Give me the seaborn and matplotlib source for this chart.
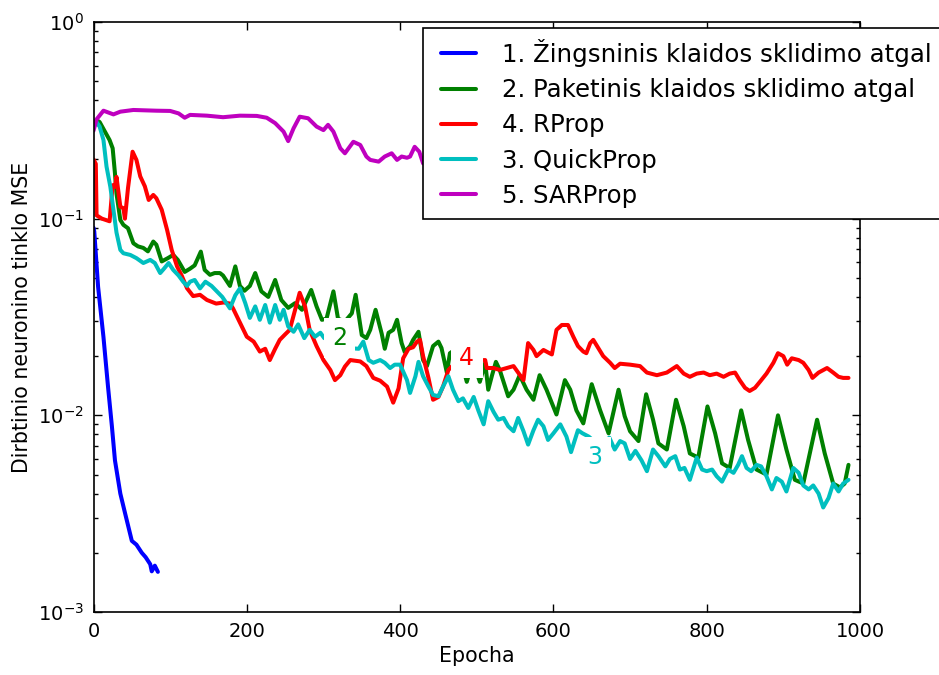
import numpy as np
import pandas as pd
import matplotlib
matplotlib.use("Agg")
import matplotlib.pyplot as plt
import seaborn as sns

# ---------------- data ----------------
ep1 = [0, 1, 6, 13, 19, 24, 28, 35, 41, 50, 56, 63, 68, 74, 76, 80, 84]
mse1 = [0.09, 0.086, 0.045, 0.025, 0.0139, 0.0088, 0.0059, 0.0040, 0.0032, 0.0023,
        0.0022, 0.0020, 0.0019, 0.00175, 0.00161, 0.00172, 0.0016]

ep2 = [1, 4, 8, 15, 21, 25, 28, 30, 35, 39, 45, 52, 58, 65, 71, 78, 82, 89, 97, 104,
       110, 119, 126, 132, 140, 145, 152, 158, 165, 169, 178, 185, 191, 197, 204, 211,
       219, 228, 237, 245, 254, 263, 272, 284, 291, 298, 304, 313, 319, 328, 337, 342,
       350, 356, 361, 368, 376, 380, 385, 391, 396, 402, 406, 413, 417, 424, 430, 435,
       443, 450, 454, 461, 465, 475, 487, 495, 504, 511, 515, 520, 525, 530, 537, 541,
       548, 556, 565, 574, 582, 591, 604, 615, 622, 630, 639, 650, 661, 672, 685, 693,
       700, 711, 721, 730, 737, 748, 760, 770, 778, 789, 801, 811, 820, 830, 845, 854,
       865, 878, 893, 904, 915, 926, 944, 954, 965, 974, 980, 985]
mse2 = [0.30, 0.317, 0.31, 0.277, 0.251, 0.228, 0.17, 0.134, 0.0985, 0.093, 0.0894,
        0.075, 0.0723, 0.071, 0.0682, 0.0765, 0.0737, 0.0606, 0.063, 0.0654, 0.0617,
        0.0536, 0.0557, 0.0579, 0.068, 0.0549, 0.0518, 0.0529, 0.0529, 0.0514, 0.0455,
        0.0572, 0.0455, 0.043, 0.0455, 0.0529, 0.0427, 0.040, 0.0488, 0.0386, 0.0352,
        0.0372, 0.0344, 0.0434, 0.0358, 0.0306, 0.031, 0.0427, 0.031, 0.030, 0.033,
        0.041, 0.0256, 0.0247, 0.0272, 0.0344, 0.026, 0.0218, 0.0263, 0.0272, 0.0306,
        0.0233, 0.021, 0.0225, 0.0242, 0.0266, 0.0191, 0.0178, 0.0225, 0.0237, 0.022,
        0.0165, 0.0207, 0.022, 0.0148, 0.019, 0.0148, 0.0185, 0.0135, 0.016, 0.0187,
        0.017, 0.014, 0.0125, 0.0135, 0.016, 0.0135, 0.012, 0.016, 0.0135, 0.0101,
        0.0151, 0.0135, 0.0106, 0.0091, 0.0144, 0.0106, 0.0081, 0.0135, 0.0099, 0.0083,
        0.0074, 0.0128, 0.0095, 0.0072, 0.0067, 0.012, 0.0088, 0.0064, 0.0061, 0.0111,
        0.0081, 0.0057, 0.0054, 0.0106, 0.0075, 0.0053, 0.005, 0.010, 0.0067, 0.0047,
        0.0045, 0.0095, 0.0064, 0.0045, 0.0043, 0.0045, 0.0056]

ep4 = [0, 3, 4, 11, 21, 25, 28, 30, 35, 39, 41, 45, 51, 56, 61, 67, 72, 78, 82, 89,
       96, 102, 109, 115, 122, 130, 139, 148, 160, 170, 178, 182, 191, 200, 209, 217,
       224, 230, 237, 243, 250, 256, 263, 269, 276, 282, 291, 300, 309, 315, 322, 328,
       335, 348, 356, 365, 374, 383, 391, 398, 404, 411, 417, 422, 426, 430, 437, 443,
       450, 456, 463, 475, 490, 500, 511, 513, 522, 530, 539, 548, 554, 561, 567, 574,
       578, 587, 598, 604, 611, 619, 626, 632, 639, 643, 648, 652, 657, 665, 674, 680,
       687, 700, 713, 722, 735, 748, 761, 770, 778, 787, 796, 804, 813, 822, 830, 837,
       843, 850, 856, 863, 870, 878, 887, 893, 900, 905, 911, 920, 926, 933, 938, 946,
       957, 965, 972, 978, 985]
mse4 = [0.20, 0.19, 0.104, 0.10, 0.097, 0.148, 0.145, 0.163, 0.115, 0.113, 0.100,
        0.143, 0.219, 0.199, 0.164, 0.146, 0.1245, 0.132, 0.127, 0.111, 0.0877, 0.0694,
        0.0572, 0.0514, 0.0443, 0.0404, 0.041, 0.0386, 0.037, 0.0375, 0.037, 0.035,
        0.0296, 0.0251, 0.0237, 0.0211, 0.0218, 0.0191, 0.0218, 0.0242, 0.0258, 0.0272,
        0.0344, 0.042, 0.0358, 0.0272, 0.0225, 0.0191, 0.017, 0.0151, 0.016, 0.0177,
        0.0191, 0.0188, 0.0178, 0.0155, 0.0150, 0.0140, 0.0116, 0.0137, 0.0195, 0.0218,
        0.0222, 0.0237, 0.0242, 0.0200, 0.0155, 0.0120, 0.0124, 0.0140, 0.017, 0.019,
        0.019, 0.019, 0.0191, 0.0174, 0.0174, 0.017, 0.0174, 0.0178, 0.0165, 0.0151,
        0.0233, 0.0215, 0.020, 0.0215, 0.0204, 0.0272, 0.0288, 0.0288, 0.0251, 0.0225,
        0.0211, 0.0207, 0.0233, 0.0242, 0.0225, 0.020, 0.0185, 0.0174, 0.0183, 0.0181,
        0.0178, 0.0165, 0.016, 0.0165, 0.0178, 0.0163, 0.0157, 0.0163, 0.0165, 0.016,
        0.0163, 0.0157, 0.0163, 0.0165, 0.0151, 0.0138, 0.0133, 0.0138, 0.0149, 0.0163,
        0.0185, 0.0207, 0.020, 0.0181, 0.0195, 0.0191, 0.0185, 0.017, 0.0155, 0.0165,
        0.0174, 0.0165, 0.0157, 0.0155, 0.0155]

ep3 = [1, 4, 8, 13, 17, 22, 26, 30, 35, 39, 48, 56, 65, 74, 80, 87, 92, 98, 104, 111,
       117, 122, 126, 132, 139, 146, 154, 161, 168, 178, 185, 191, 198, 204, 211, 217,
       224, 230, 237, 243, 248, 254, 261, 267, 275, 282, 289, 296, 301, 315, 330, 346,
       352, 359, 365, 374, 380, 387, 393, 400, 409, 413, 420, 424, 430, 437, 443, 450,
       456, 463, 469, 476, 482, 489, 496, 502, 509, 515, 522, 528, 535, 541, 548, 554,
       561, 567, 574, 580, 587, 593, 600, 609, 617, 623, 632, 638, 646, 660, 673, 680,
       687, 693, 700, 707, 715, 722, 730, 737, 746, 752, 759, 765, 771, 778, 787, 794,
       800, 807, 813, 820, 828, 835, 841, 846, 852, 858, 865, 871, 878, 885, 891, 898,
       904, 913, 920, 926, 933, 939, 946, 952, 959, 965, 972, 978, 985]
mse3 = [0.30, 0.31, 0.294, 0.251, 0.184, 0.145, 0.111, 0.085, 0.0694, 0.0667, 0.0654,
        0.063, 0.0595, 0.0617, 0.0595, 0.0529, 0.0557, 0.0595, 0.0549, 0.0514, 0.0478,
        0.0455, 0.0478, 0.0488, 0.0442, 0.0478, 0.0455, 0.0427, 0.040, 0.035, 0.0408,
        0.0442, 0.0372, 0.0313, 0.0358, 0.0306, 0.0364, 0.0296, 0.0364, 0.0306, 0.0344,
        0.0283, 0.0266, 0.029, 0.0247, 0.0272, 0.0251, 0.0263, 0.0247, 0.024, 0.022,
        0.0218, 0.0237, 0.0191, 0.0185, 0.0191, 0.0185, 0.0174, 0.0181, 0.0181, 0.0151,
        0.013, 0.0158, 0.0187, 0.0158, 0.014, 0.0127, 0.0125, 0.014, 0.0158, 0.0135,
        0.0118, 0.0122, 0.0109, 0.0124, 0.0106, 0.0090, 0.0118, 0.0104, 0.0095, 0.0097,
        0.0088, 0.0083, 0.0097, 0.0083, 0.0071, 0.0084, 0.0095, 0.0088, 0.0075, 0.0081,
        0.009, 0.0078, 0.0065, 0.0084, 0.0081, 0.0078, 0.007, 0.0077, 0.0067, 0.0074,
        0.0072, 0.006, 0.0066, 0.0059, 0.0052, 0.0067, 0.0062, 0.0055, 0.006, 0.0062,
        0.0053, 0.0054, 0.0047, 0.0061, 0.0053, 0.0052, 0.0053, 0.0049, 0.0046, 0.0053,
        0.0051, 0.0056, 0.0062, 0.0054, 0.0052, 0.0056, 0.0055, 0.0049, 0.0042, 0.0048,
        0.0046, 0.0041, 0.0054, 0.0051, 0.0044, 0.0042, 0.0044, 0.0040, 0.0034, 0.0038,
        0.0045, 0.0041, 0.0045, 0.0047]

ep5 = [0, 4, 13, 26, 35, 52, 82, 100, 111, 119, 126, 148, 169, 191, 213, 226, 237,
       248, 254, 261, 269, 280, 291, 300, 306, 313, 322, 328, 339, 348, 356, 361, 372,
       380, 389, 396, 402, 409, 413, 419, 425, 430, 500, 600, 700, 800, 900, 990]
mse5 = [0.28, 0.32, 0.354, 0.339, 0.35, 0.357, 0.354, 0.353, 0.343, 0.326, 0.337,
        0.334, 0.328, 0.334, 0.333, 0.326, 0.306, 0.277, 0.248, 0.288, 0.330, 0.324,
        0.294, 0.282, 0.300, 0.277, 0.228, 0.215, 0.246, 0.237, 0.207, 0.199, 0.195,
        0.207, 0.215, 0.199, 0.207, 0.204, 0.207, 0.232, 0.219, 0.191, 0.17, 0.16,
        0.15, 0.14, 0.14, 0.13]

series_labels = ["1. Žingsninis klaidos sklidimo atgal",
                 "2. Paketinis klaidos sklidimo atgal",
                 "4. RProp",
                 "3. QuickProp",
                 "5. SARProp"]
inline_labels = ["2", "4", "3"]
inline_x = [321, 487, 654]
inline_y = [0.0247, 0.0196, 0.00614]

x_label = "Epocha"
y_label = "Dirbtinio neuronino tinklo MSE"
x_ticks = [0, 200, 400, 600, 800, 1000]

# ---------------- style ----------------
sns.set_theme(style="white", rc={
    "axes.edgecolor": "black",
    "axes.linewidth": 1.2,
    "xtick.direction": "in",
    "ytick.direction": "in",
    "xtick.top": True,
    "ytick.right": True,
    "xtick.bottom": True,
    "ytick.left": True,
    "xtick.major.size": 5.5,
    "ytick.major.size": 5.5,
    "ytick.minor.size": 2.8,
    "xtick.major.width": 1,
    "ytick.major.width": 1,
    "ytick.minor.width": 1,
    "xtick.color": "black",
    "ytick.color": "black",
    "axes.labelcolor": "black",
    "text.color": "black",
})
plt.rcParams["font.family"] = ["DejaVu Sans"]

colors = {"b": (0, 0, 1), "g": (0, 0.5, 0), "r": (1, 0, 0),
          "c": (0, 0.75, 0.75), "m": (0.75, 0, 0.75)}
LW = 2.9

fig = plt.figure(figsize=(9.39, 6.75), dpi=100)
ax = fig.add_axes([93.5 / 939, (675 - 612) / 675, (860 - 93.5) / 939, (612 - 22) / 675])

data = [(ep1, mse1, "b"), (ep2, mse2, "g"), (ep4, mse4, "r"), (ep3, mse3, "c"), (ep5, mse5, "m")]
handles = []
for (ep, mse, c), lab in zip(data, series_labels):
    df = pd.DataFrame({"Epocha": ep, "MSE": mse})
    sns.lineplot(data=df, x="Epocha", y="MSE", color=colors[c], linewidth=LW,
                 ax=ax, legend=False, estimator=None)
    ax.lines[-1].set_solid_joinstyle("round")
    handles.append(ax.lines[-1])

ax.set_yscale("log")
ax.set_xlim(0, 1000)
ax.set_ylim(1e-3, 1)
ax.set_xticks(x_ticks)
ax.set_xticklabels([str(t) for t in x_ticks])
ax.tick_params(axis="both", which="both", labelsize=14, pad=7)
ax.set_xlabel(x_label, fontsize=14.8)
ax.set_ylabel(y_label, fontsize=14.8)

# inline labels with white boxes
for txt, xv, yv, c in zip(inline_labels, inline_x, inline_y, ["g", "r", "c"]):
    ax.text(xv, yv, txt, color=colors[c], fontsize=17, ha="center", va="center",
            zorder=4, bbox=dict(boxstyle="square,pad=0.35", fc="white", ec="none"))

leg = ax.legend(handles, series_labels, loc="upper left",
                bbox_to_anchor=(423 / 939, 1 - 28 / 675), bbox_transform=fig.transFigure,
                fontsize=17.6, frameon=True, fancybox=False, framealpha=1,
                edgecolor="black", numpoints=2, handlelength=2.0, handletextpad=0.8,
                borderpad=0.45, labelspacing=0.46, borderaxespad=0)
leg.get_frame().set_linewidth(1.2)
for h in leg.legend_handles:
    h.set_linewidth(LW)

fig.savefig("out.png", dpi=100)
